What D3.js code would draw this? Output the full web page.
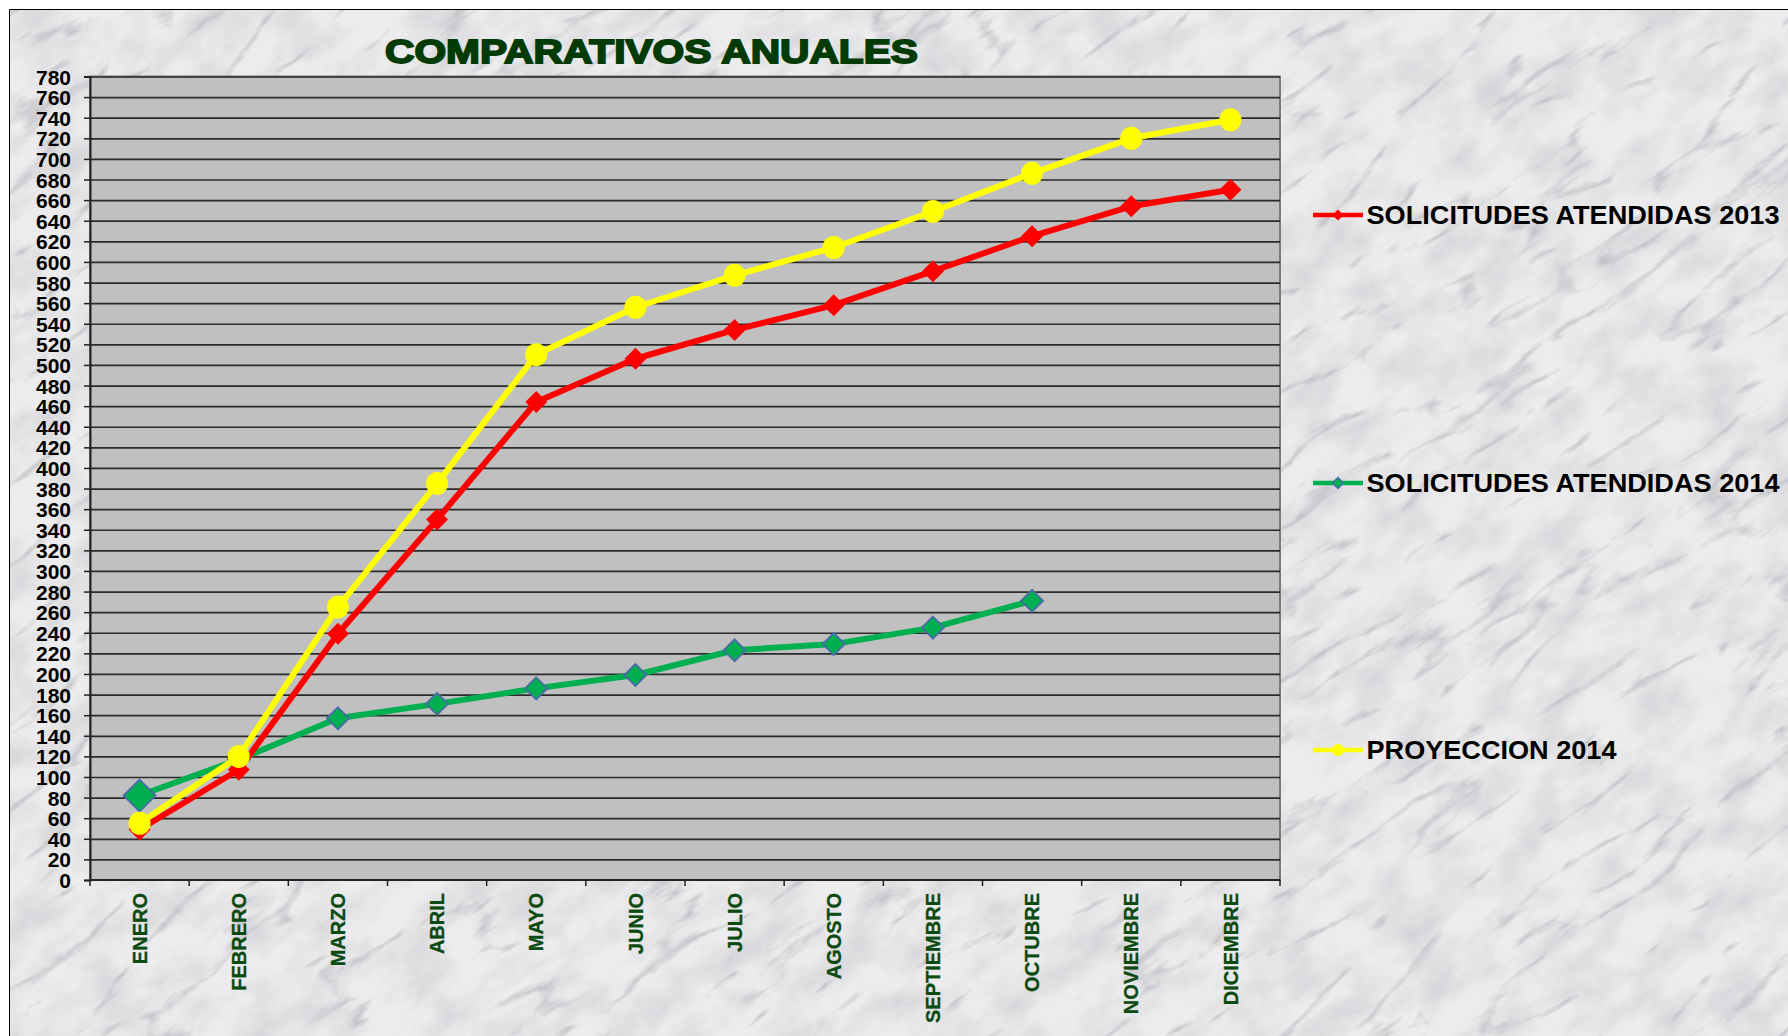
<!DOCTYPE html>
<html>
<head>
<meta charset="utf-8">
<script src="https://cdn.jsdelivr.net/npm/d3@7"></script>
<style>
  html, body { margin: 0; padding: 0; background: #ffffff; }
  svg { display: block; }
  text { font-family: "Liberation Sans", Arial, sans-serif; font-weight: bold; }
</style>
</head>
<body>
<svg id="chart" width="1788" height="1036"></svg>
<script>
// ---- data ----
const months = ["ENERO","FEBRERO","MARZO","ABRIL","MAYO","JUNIO","JULIO","AGOSTO","SEPTIEMBRE","OCTUBRE","NOVIEMBRE","DICIEMBRE"];
const solicitudes2013 = [49,107,239,350,464,506,534,558,591,625,654,670];
const solicitudes2014 = [82,117,157,171,186,199,223,229,245,271];
const proyeccion2014 = [55,120,265,385,510,556,587,614,649,686,720,738];
const yTicks = d3.range(0, 781, 20);
const seriesNames = ["SOLICITUDES ATENDIDAS 2013","SOLICITUDES ATENDIDAS 2014","PROYECCION 2014"];
const titleText = "COMPARATIVOS ANUALES";

const svg = d3.select("#chart");
const W = 1788, H = 1036;
const plot = {left: 90, right: 1280, top: 76.5, bottom: 880};

// ---- marble background ----
const defs = svg.append("defs");
const R = {x:-800, y:-800, w:3400, h:2700};
const f = defs.append("filter").attr("id","veins").attr("filterUnits","userSpaceOnUse")
  .attr("x",R.x).attr("y",R.y).attr("width",R.w).attr("height",R.h);
f.append("feTurbulence").attr("type","turbulence").attr("baseFrequency","0.006 0.02").attr("numOctaves",5).attr("seed",11).attr("result","t");
f.append("feColorMatrix").attr("in","t").attr("type","matrix")
  .attr("values","0 0 0 0 0.40  0 0 0 0 0.40  0 0 0 0 0.43  -3.4 0 0 0 0.66");
const f2 = defs.append("filter").attr("id","mottle").attr("filterUnits","userSpaceOnUse")
  .attr("x",R.x).attr("y",R.y).attr("width",R.w).attr("height",R.h);
f2.append("feTurbulence").attr("type","fractalNoise").attr("baseFrequency","0.018 0.03").attr("numOctaves",4).attr("seed",4).attr("result","n");
f2.append("feColorMatrix").attr("in","n").attr("type","matrix")
  .attr("values","0 0 0 0 0.60  0 0 0 0 0.60  0 0 0 0 0.63  -1.6 0 0 0 1.0");
defs.append("clipPath").attr("id","frame").append("rect").attr("x",9).attr("y",9).attr("width",W-9).attr("height",H-9);

const bg = svg.append("g").attr("clip-path","url(#frame)");
bg.append("rect").attr("x",9).attr("y",9).attr("width",W).attr("height",H).attr("fill","#ececee");
const rot = bg.append("g").attr("transform","rotate(-35 894 518)");
rot.append("rect").attr("x",R.x).attr("y",R.y).attr("width",R.w).attr("height",R.h)
  .attr("filter","url(#mottle)").attr("opacity",0.85);
rot.append("rect").attr("x",R.x).attr("y",R.y).attr("width",R.w).attr("height",R.h)
  .attr("filter","url(#veins)").attr("opacity",0.95);
svg.append("path").attr("d",`M9.5,${H} V9.5 H${W}`).attr("fill","none").attr("stroke","#000").attr("stroke-width",1);

// ---- scales ----
const x = d3.scaleBand().domain(months).range([plot.left, plot.right]).padding(0);
const cx = m => x(m) + x.bandwidth()/2;
const y = d3.scaleLinear().domain([0,780]).range([plot.bottom, plot.top]);

// plot area
svg.append("rect").attr("x",plot.left).attr("y",plot.top).attr("width",plot.right-plot.left).attr("height",plot.bottom-plot.top)
  .attr("fill","#c0c0c0").attr("stroke","#7a7a7a").attr("stroke-width",2);

// gridlines
svg.append("g").attr("transform",`translate(${plot.left},0)`)
  .call(d3.axisLeft(y).tickValues(yTicks.filter(v=>v>0)).tickSize(-(plot.right-plot.left)).tickFormat(""))
  .call(g=>g.select(".domain").remove())
  .call(g=>g.selectAll(".tick line").attr("stroke","#2b2b2b").attr("stroke-width",1.7));

// y axis
const yAxis = svg.append("g").attr("transform",`translate(${plot.left},0)`)
  .call(d3.axisLeft(y).tickValues(yTicks).tickSize(6).tickPadding(13));
yAxis.select(".domain").attr("stroke","#222").attr("stroke-width",2);
yAxis.selectAll(".tick line").attr("stroke","#222").attr("stroke-width",1.5);
yAxis.selectAll(".tick text").attr("fill","#000").style("font-size","21px").style("font-weight","bold")
  .style("font-family","'Liberation Sans', Arial, sans-serif").attr("dy","0.36em");

// x axis line + boundary ticks
const xg = svg.append("g");
xg.append("line").attr("x1",plot.left).attr("x2",plot.right).attr("y1",plot.bottom).attr("y2",plot.bottom)
  .attr("stroke","#222").attr("stroke-width",2);
xg.selectAll("line.tk").data(months.concat(["__end"])).join("line").attr("class","tk")
  .attr("x1",(d,i)=> i<months.length ? x(d) : plot.right).attr("x2",(d,i)=> i<months.length ? x(d) : plot.right)
  .attr("y1",plot.bottom).attr("y2",plot.bottom+6).attr("stroke","#222").attr("stroke-width",1.5);
xg.selectAll("text.lbl").data(months).join("text").attr("class","lbl")
  .attr("transform",d=>`translate(${cx(d)},893) rotate(-90)`)
  .attr("text-anchor","end").attr("dy","0.36em")
  .attr("fill","#0b4a10").attr("stroke","#0b4a10").attr("stroke-width",0.3)
  .style("font-size","20px").text(d=>d);

// title
svg.append("text").attr("x",385).attr("y",63).attr("fill","#033b06").attr("stroke","#033b06").attr("stroke-width",1.8)
  .attr("textLength",533).attr("lengthAdjust","spacingAndGlyphs")
  .style("font-size","34px").text(titleText);

// ---- series ----
const line = d3.line().x(d=>cx(d.m)).y(d=>y(d.v));
function toPts(arr){ return arr.map((v,i)=>({m:months[i], v})); }
const diamond = (h)=>`M0,${-h} L${h},0 L0,${h} L${-h},0 Z`;

const series = [
  {name: seriesNames[0], values: solicitudes2013, color:"#ff0000", marker:"diamond", fill:"#ff0000", stroke:"none", size:11},
  {name: seriesNames[1], values: solicitudes2014, color:"#00b050", marker:"diamond", fill:"#00b050", stroke:"#4a6aa8", size:11},
  {name: seriesNames[2], values: proyeccion2014, color:"#ffff00", marker:"circle", fill:"#ffff00", stroke:"none", size:11}
];
const drawOrder = [1,0,2];
drawOrder.forEach(k=>{
  const s = series[k];
  const pts = toPts(s.values);
  svg.append("path").datum(pts).attr("d",line).attr("fill","none").attr("stroke",s.color)
    .attr("stroke-width",6).attr("stroke-linejoin","round");
  const g = svg.append("g");
  pts.forEach((p,i)=>{
    const big = (k===1 && i===0);
    const sz = big ? 16 : s.size;
    if(s.marker==="circle"){
      g.append("ellipse").attr("cx",cx(p.m)).attr("cy",y(p.v)).attr("rx",sz).attr("ry",sz+0.5).attr("fill",s.fill);
    } else {
      g.append("path").attr("transform",`translate(${cx(p.m)},${y(p.v)})`).attr("d",diamond(sz))
        .attr("fill",s.fill).attr("stroke",s.stroke).attr("stroke-width",s.stroke==="none"?0:1.8);
    }
  });
});

// ---- legend ----
const legendY = [215, 483, 750];
const legendW = [413, 413, 250];
series.forEach((s,i)=>{
  const g = svg.append("g").attr("transform",`translate(0,${legendY[i]})`);
  g.append("line").attr("x1",1313).attr("x2",1363).attr("y1",0).attr("y2",0).attr("stroke",s.color).attr("stroke-width",4.5);
  if(s.marker==="circle"){
    g.append("circle").attr("cx",1338).attr("cy",0).attr("r",6).attr("fill",s.fill);
  } else {
    g.append("path").attr("transform","translate(1338,0)").attr("d",diamond(5.5)).attr("fill",s.fill)
      .attr("stroke",s.stroke).attr("stroke-width",s.stroke==="none"?0:1.3);
  }
  g.append("text").attr("x",1366.5).attr("y",8.5).attr("fill","#000").style("font-size","26.5px")
    .attr("textLength",legendW[i]).attr("lengthAdjust","spacingAndGlyphs").text(s.name);
});
</script>
</body>
</html>
